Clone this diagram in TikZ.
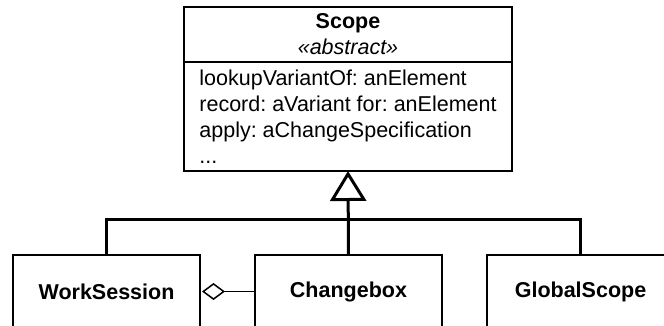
\documentclass[tikz,border=0pt]{standalone}
\usepackage{fontspec}
\setmainfont{Liberation Sans}
\usetikzlibrary{arrows.meta,positioning}
\frenchspacing

\begin{document}
\begin{tikzpicture}[x=1pt, y=-1pt,
  txt/.style={font=\fontsize{21.5}{26}\selectfont},
  classhead/.style={draw, txt, line width=2pt, outer sep=0pt, minimum width=328pt, align=center},
  classbox/.style={draw, txt, line width=2pt, outer sep=0pt, minimum width=187pt, minimum height=73pt, font=\fontsize{21.5}{26}\selectfont\bfseries},
  genline/.style={line width=3pt},
  aggr/.style={line width=1.5pt, -{Diamond[open, length=23pt, width=17pt]}, shorten >=2pt}]
\useasboundingbox (0,0) rectangle (664,325);
\clip (0,0) rectangle (664,325);

% 类
\node[classhead, minimum height=55pt] (scope) at (348,34.5) {\textbf{Scope}\\\textit{«abstract»}};
\node[classhead, minimum height=109pt, align=left, below=0pt of scope] (scopeops)
  {lookupVariantOf: anElement\\record: aVariant for: anElement\\apply: aChangeSpecification\\...};
\node[classbox] (worksession) at (106.5,291.5) {WorkSession};
\node[classbox] (changebox) at (348.5,291.5) {Changebox};
\node[classbox] (globalscope) at (580.5,291.5) {GlobalScope};

% 继承
\coordinate (bar) at (348.5,219);
\draw[genline] (worksession.north) |- (bar) -| (globalscope.north);
\draw[genline, -{Triangle[open, length=30pt, width=36pt]}] (changebox.north) -- (scopeops.south);

% 聚合
\draw[aggr] (changebox.west) -- (worksession.east);
\end{tikzpicture}
\end{document}
